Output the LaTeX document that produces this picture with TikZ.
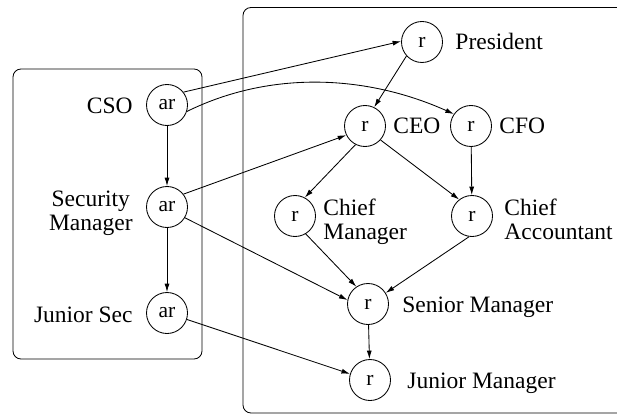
\documentclass[tikz,border=0pt]{standalone}
\usepackage{fontspec}
\setmainfont{Liberation Serif}
\usetikzlibrary{arrows.meta}
\begin{document}
\begin{tikzpicture}[x=1pt,y=-1pt,
  line width=0.85pt,
  role/.style={circle,draw,minimum size=41pt,inner sep=0pt,font=\fontsize{21.5}{24}\selectfont},
  lbl/.style={inner sep=0pt,font=\fontsize{23.5}{24}\selectfont},
  arr/.style={-{Latex[length=8.5pt,width=5pt]}},
  group/.style={draw,rounded corners=8pt}]
\useasboundingbox (0,0) rectangle (617,414);

% domain boxes: security domain, and the corporate domain running off the page
\draw[group] (13,69) rectangle (202,359);
\draw[group] (630,7.5) -- (243,7.5) -- (243,413) -- (630,413);

% security roles
\node[role] (cso) at (167,105) {ar};
\node[role] (sm)  at (167,207) {ar};
\node[role] (js)  at (167,313) {ar};
\node[lbl,anchor=base east] (lcso) at (133,114) {CSO};
\node[lbl,anchor=north east,align=center] (lsm) at (133,191) {Security\\Manager};
\node[lbl,anchor=base east] (ljs) at (133,322) {Junior Sec};

% corporate roles
\node[role] (pres) at (422,42)  {r};
\node[role] (ceo)  at (365,126) {r};
\node[role] (cfo)  at (471,126) {r};
\node[role] (cm)   at (295,216) {r};
\node[role] (ca)   at (472,216) {r};
\node[role] (sen)  at (368,304) {r};
\node[role] (jm)   at (370,380) {r};
\node[lbl,anchor=base west] (lpres) at (455,50)  {President};
\node[lbl,anchor=base west] (lceo)  at (393,134) {CEO};
\node[lbl,anchor=base west] (lcfo)  at (499,134) {CFO};
\node[lbl,anchor=north west,align=left] (lcm) at (323,199) {Chief\\Manager};
\node[lbl,anchor=north west,align=left] (lca) at (504,199) {Chief\\Accountant};
\node[lbl,anchor=base west] (lsen)  at (402,312) {Senior Manager};
\node[lbl,anchor=base west] (ljm)   at (407,388) {Junior Manager};

% hierarchy
\draw[arr] (cso) -- (sm);
\draw[arr] (sm) -- (js);
\draw[arr] (pres.222) -- (ceo.64);
\draw[arr] (ceo.243) -- (cm.62);
\draw[arr] (ceo.-42) -- (ca.128);
\draw[arr] (cfo) -- (ca);
\draw[arr] (cm.-59) -- (sen.124);
\draw[arr] (ca.262) -- (sen.32);
\draw[arr] (sen) -- (jm);

% cross-domain links
\draw[arr] (cso.38) -- (pres.178);
\draw[arr] (cso.-18) .. controls (271,70) and (367,75) .. (cfo.145);
\draw[arr] (sm.38) -- (ceo.206);
\draw[arr] (sm.-31) -- (sen.169);
\draw[arr] (js.-18) -- (jm.163);
\end{tikzpicture}
\end{document}
